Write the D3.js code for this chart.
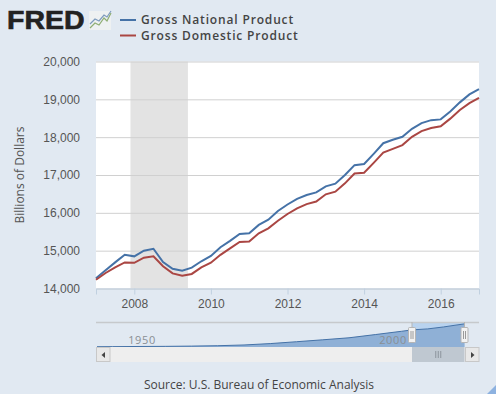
<!DOCTYPE html>
<html>
<head>
<meta charset="utf-8">
<script src="https://cdn.jsdelivr.net/npm/d3@7"></script>
<style>
  html, body { margin: 0; padding: 0; background: #e1e9f2; }
  svg { display: block; font-family: "Open Sans", sans-serif; }
</style>
</head>
<body>
<div id="chart"></div>
<script>
// quarterly values, billions of dollars
const quarters = [
  2007, 2007.25, 2007.5, 2007.75, 2008, 2008.25, 2008.5, 2008.75, 2009, 2009.25,
  2009.5, 2009.75, 2010, 2010.25, 2010.5, 2010.75, 2011, 2011.25, 2011.5, 2011.75,
  2012, 2012.25, 2012.5, 2012.75, 2013, 2013.25, 2013.5, 2013.75, 2014, 2014.25,
  2014.5, 2014.75, 2015, 2015.25, 2015.5, 2015.75, 2016, 2016.25, 2016.5, 2016.75, 2017
];
const gnp = [
  14270, 14480, 14690, 14890, 14850, 15000, 15050, 14700, 14520, 14470,
  14550, 14720, 14860, 15090, 15260, 15440, 15460, 15680, 15820, 16050,
  16220, 16370, 16470, 16540, 16700, 16770, 17000, 17260, 17290, 17560,
  17840, 17930, 18010, 18220, 18370, 18450, 18470, 18680, 18920, 19130, 19270
];
const gdp = [
  14230, 14410, 14560, 14690, 14680, 14815, 14850, 14590, 14400, 14340,
  14385, 14560, 14680, 14890, 15060, 15230, 15240, 15460, 15590, 15790,
  15970, 16120, 16230, 16300, 16490, 16560, 16780, 17040, 17060, 17320,
  17590, 17690, 17790, 18010, 18160, 18240, 18290, 18490, 18720, 18900, 19040
];
const yTicks = [14000, 15000, 16000, 17000, 18000, 19000, 20000];
const xTicks = [2008, 2010, 2012, 2014, 2016];
const recession = [2007.9, 2009.4];

// long history for the navigator strip
const navYears = [1947, 1950, 1955, 1960, 1965, 1970, 1975, 1980, 1985, 1990, 1995, 2000, 2005, 2007, 2010, 2013, 2015, 2017];
const navValues = [240, 300, 430, 540, 750, 1080, 1690, 2850, 4390, 5990, 7670, 10350, 13090, 14270, 15090, 16700, 18010, 19270];
const navLabels = [1950, 2000];
const selected = [2007, 2017];

const seriesNames = ["Gross National Product", "Gross Domestic Product"];
const seriesColors = ["#4572a7", "#aa4643"];

const width = 496;
const height = 394;

const svg = d3.select("#chart")
  .append("svg")
  .attr("width", width)
  .attr("height", height);

const xScale = d3.scaleLinear().domain([2007, 2017]).range([96, 479]);
const yScale = d3.scaleLinear().domain([14000, 20000]).range([288.5, 61.5]);

// plot background and recession band
svg.append("rect")
  .attr("x", xScale.range()[0])
  .attr("y", yScale(20000))
  .attr("width", xScale.range()[1] - xScale.range()[0])
  .attr("height", yScale(14000) - yScale(20000))
  .attr("fill", "#ffffff");

svg.append("rect")
  .attr("x", xScale(recession[0]))
  .attr("y", yScale(20000))
  .attr("width", xScale(recession[1]) - xScale(recession[0]))
  .attr("height", yScale(14000) - yScale(20000))
  .attr("fill", "#e3e3e3");

// y axis with gridlines
const leftAxis = d3.axisLeft(yScale)
  .tickValues(yTicks)
  .tickSize(-(xScale.range()[1] - xScale.range()[0]))
  .tickPadding(16)
  .tickFormat(d3.format(","));

const yAxis = svg.append("g")
  .attr("transform", `translate(${xScale.range()[0]}, 0)`)
  .call(leftAxis);
yAxis.select(".domain").remove();
yAxis.selectAll("line").attr("stroke", "#d0d0d0");
yAxis.selectAll("text")
  .attr("font-size", 12)
  .attr("fill", "#555");

// x axis
const bottomAxis = d3.axisBottom(xScale)
  .tickValues(xTicks)
  .tickSize(6)
  .tickPadding(5)
  .tickFormat(d3.format("d"));

const xAxis = svg.append("g")
  .attr("transform", `translate(0, ${yScale(14000)})`)
  .call(bottomAxis);
xAxis.select(".domain").attr("stroke", "#c0d0e0");
xAxis.selectAll("line").attr("stroke", "#c0d0e0");
xAxis.selectAll("text")
  .attr("font-size", 12)
  .attr("fill", "#555");

svg.append("text")
  .text("Billions of Dollars")
  .attr("transform", `translate(24, ${yScale(17000)}) rotate(-90)`)
  .attr("text-anchor", "middle")
  .attr("font-size", 12)
  .attr("fill", "#555");

// the two series
const line = d3.line()
  .x((d, i) => xScale(quarters[i]))
  .y(d => yScale(d));

[gnp, gdp].forEach((values, i) => {
  svg.append("path")
    .datum(values)
    .attr("d", line)
    .attr("fill", "none")
    .attr("stroke", seriesColors[i])
    .attr("stroke-width", 2);
});

// logo
svg.append("text")
  .text("FRED")
  .attr("transform", "translate(7, 29) scale(1.14, 1)")
  .attr("font-family", "'Liberation Sans', sans-serif")
  .attr("font-weight", 700)
  .attr("font-size", 25)
  .attr("stroke", "#222")
  .attr("stroke-width", 0.6)
  .attr("fill", "#222");

const icon = svg.append("g").attr("transform", "translate(89, 11)");
icon.append("rect").attr("width", 22).attr("height", 19).attr("fill", "#eef1f2");
icon.append("path")
  .attr("d", "M1,17 L6,12 L10,14 L15,7 L18,10 L22,2")
  .attr("fill", "none").attr("stroke", "#8fae74").attr("stroke-width", 1.2);
icon.append("path")
  .attr("d", "M1,13 L6,8 L10,10 L15,4 L18,6 L22,0")
  .attr("fill", "none").attr("stroke", "#7d9bbd").attr("stroke-width", 1.2);

// legend
const legend = svg.append("g");
seriesNames.forEach((name, i) => {
  const y = 20 + i * 15.5;
  legend.append("line")
    .attr("x1", 120).attr("x2", 136)
    .attr("y1", y).attr("y2", y)
    .attr("stroke", seriesColors[i])
    .attr("stroke-width", 2);
  legend.append("text")
    .text(name)
    .attr("x", 141)
    .attr("y", y + 4)
    .attr("font-size", 12)
    .attr("font-weight", 600)
    .attr("letter-spacing", 0.84)
    .attr("fill", "#444");
});

// navigator
const navX = d3.scaleLinear().domain([1947, 2017]).range([97, 464.5]);
const navY = d3.scaleLinear().domain([0, 20000]).range([347, 323]);
const navLabelX = d3.scaleLinear().domain(navLabels).range([142, 393]);

svg.append("rect")
  .attr("x", navX(selected[0]))
  .attr("y", 322.5)
  .attr("width", navX(selected[1]) - navX(selected[0]))
  .attr("height", 24.5)
  .attr("fill", "#b9d3ef");

svg.append("line")
  .attr("x1", 96).attr("x2", 479)
  .attr("y1", 322.5).attr("y2", 322.5)
  .attr("stroke", "#c6c9cc")
  .attr("stroke-width", 1.5);

const navArea = d3.area()
  .x((d, i) => navX(navYears[i]))
  .y0(navY(0))
  .y1(d => navY(d));

const navLine = d3.line()
  .x((d, i) => navX(navYears[i]))
  .y(d => navY(d));

svg.append("path")
  .datum(navValues)
  .attr("d", navArea)
  .attr("fill", "#8fb0d6");

svg.append("path")
  .datum(navValues)
  .attr("d", navLine)
  .attr("fill", "none")
  .attr("stroke", "#4572a7")
  .attr("stroke-width", 1);

navLabels.forEach(year => {
  svg.append("text")
    .text(year)
    .attr("x", navLabelX(year))
    .attr("y", 344)
    .attr("text-anchor", "middle")
    .attr("font-size", 11)
    .attr("letter-spacing", 0.6)
    .attr("fill", "#8a8f94");
});

// scrollbar
const scrollTop = 347;
const scrollHeight = 15;
svg.append("rect")
  .attr("x", 96).attr("y", scrollTop)
  .attr("width", 383).attr("height", scrollHeight)
  .attr("fill", "#eeeeee");
svg.append("rect")
  .attr("x", navX(selected[0])).attr("y", scrollTop)
  .attr("width", navX(selected[1]) - navX(selected[0])).attr("height", scrollHeight)
  .attr("fill", "#bfc8d1");

[[96, "M105,352 L105,358 L101.5,355 Z"], [465, "M471,352 L471,358 L474.5,355 Z"]].forEach(([x, arrow]) => {
  svg.append("rect")
    .attr("x", x + 0.5).attr("y", scrollTop + 0.5)
    .attr("width", 13.5).attr("height", scrollHeight - 1)
    .attr("fill", "#e8e8e8")
    .attr("stroke", "#c8c8c8");
  svg.append("path").attr("d", arrow).attr("fill", "#444");
});

// three grip lines on the scrollbar thumb
const gripX = (navX(selected[0]) + navX(selected[1])) / 2;
[-2.5, 0, 2.5].forEach(dx => {
  svg.append("line")
    .attr("x1", gripX + dx).attr("x2", gripX + dx)
    .attr("y1", 351).attr("y2", 358)
    .attr("stroke", "#8c949c");
});

// navigator handles
selected.forEach(year => {
  const hx = navX(year);
  svg.append("line")
    .attr("x1", hx).attr("x2", hx)
    .attr("y1", 322).attr("y2", 327)
    .attr("stroke", "#b5b5b5");
  svg.append("rect")
    .attr("x", hx - 3.5).attr("y", 327.5)
    .attr("width", 7).attr("height", 15)
    .attr("rx", 1)
    .attr("fill", "#f2f2f2")
    .attr("stroke", "#b5b5b5");
  [-1, 1].forEach(dx => {
    svg.append("line")
      .attr("x1", hx + dx).attr("x2", hx + dx)
      .attr("y1", 331).attr("y2", 339)
      .attr("stroke", "#9a9a9a");
  });
});

// source line
svg.append("text")
  .text("Source: U.S. Bureau of Economic Analysis")
  .attr("x", 259)
  .attr("y", 389)
  .attr("text-anchor", "middle")
  .attr("font-size", 12)
  .attr("fill", "#444");

// resize grip in the bottom corner
svg.append("path")
  .attr("d", "M496,385 L496,394 L487,394 Z")
  .attr("fill", "#8db2e0");
</script>
</body>
</html>
